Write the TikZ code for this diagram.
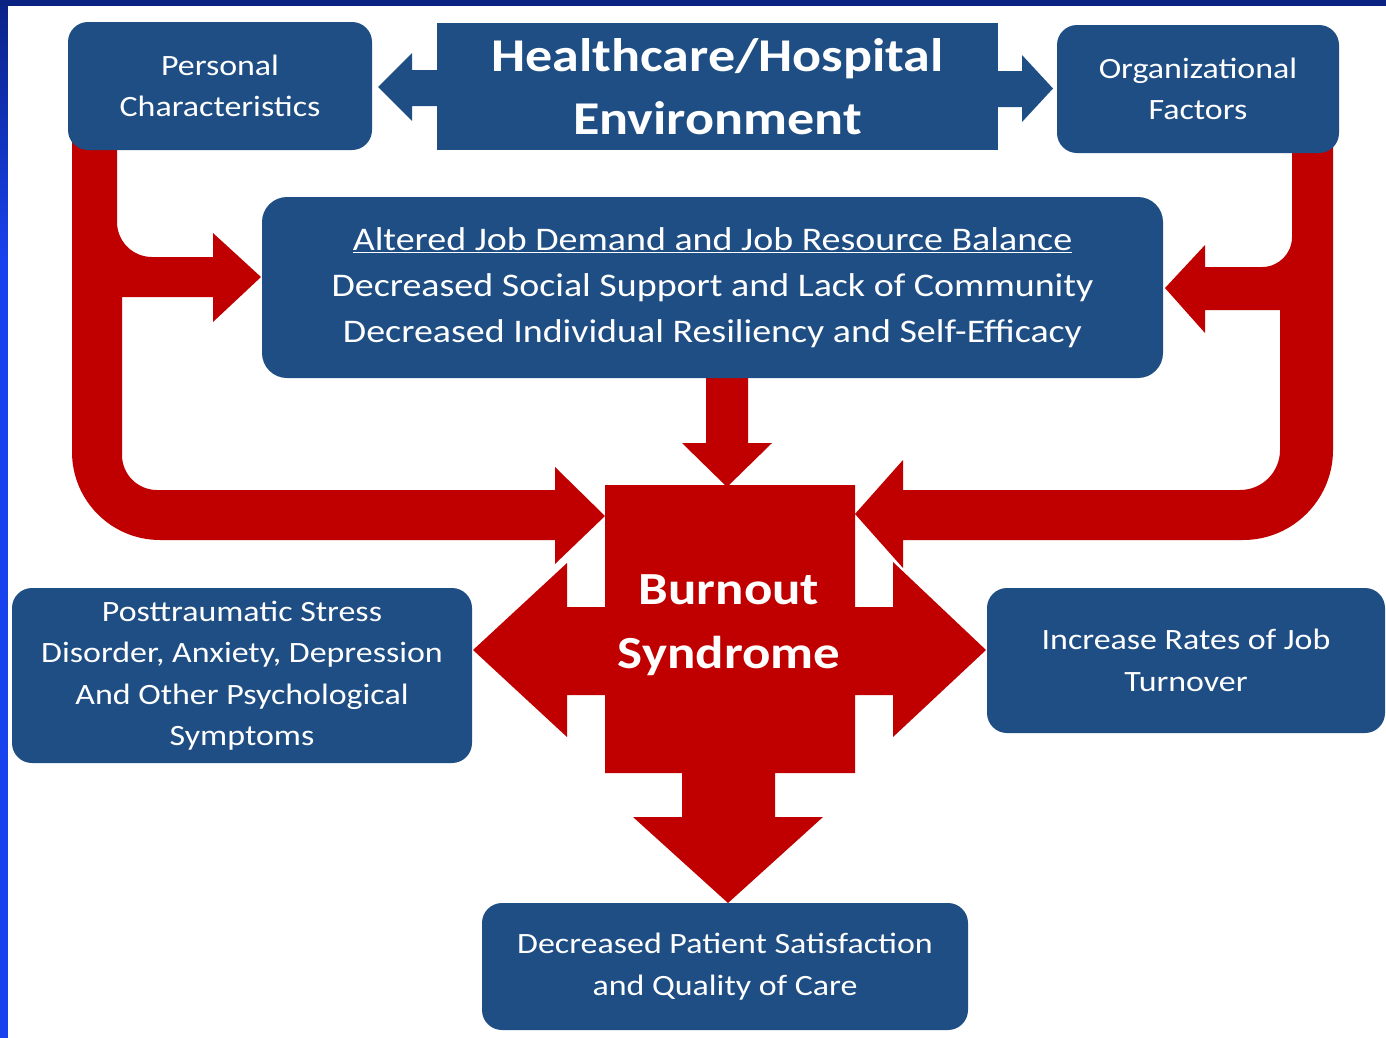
\documentclass[tikz,border=0pt]{standalone}
\usepackage{fontspec}
\setmainfont{Carlito}[FakeStretch=1.15]
\definecolor{boxblue}{RGB}{31,78,132}
\definecolor{burnred}{RGB}{192,0,0}
\definecolor{slidetop}{RGB}{10,34,130}
\definecolor{slidebottom}{RGB}{24,66,238}
\begin{document}
\begin{tikzpicture}[x=1pt,y=-1pt,
  bluebox/.style={fill=boxblue, rounded corners=20pt, text=white, align=center,
    inner sep=0pt, font=\fontsize{29.5}{41.5}\selectfont},
  headbox/.style={fill=boxblue, text=white, align=center, inner sep=0pt,
    font=\bfseries\fontsize{47}{63}\selectfont},
  redshape/.style={fill=burnred},
  blueshape/.style={fill=boxblue}]
\useasboundingbox (0,0) rectangle (1386,1037);

% slide frame and white canvas
\fill[slidebottom] (-10,-10) rectangle (1400,1050);
\shade[top color=slidetop, bottom color=slidebottom] (-10,-10) rectangle (10,260);
\fill[slidetop] (-10,-10) rectangle (1400,6);
\fill[white] (8,6) rectangle (1400,1050);

% left feedback path with branch into the middle box
\fill[redshape] (72,140) -- (117,140) -- (117,222)
  .. controls (117,241.3) and (132.7,257) .. (152,257)
  -- (213,257) -- (213,233) -- (261,277) -- (213,322) -- (213,297)
  -- (122,297) -- (122,455)
  .. controls (122,474.3) and (137.7,490) .. (157,490)
  -- (555,490) -- (555,467) -- (605,516) -- (555,564) -- (555,540)
  -- (160,540) .. controls (111.4,540) and (72,500.6) .. (72,452) -- cycle;

% right feedback path with branch into the middle box
\fill[redshape] (1292,140) -- (1333,140) -- (1333,450)
  .. controls (1333,499.7) and (1292.7,540) .. (1243,540)
  -- (903,540) -- (903,568) -- (855,514) -- (903,460) -- (903,490)
  -- (1240,490) .. controls (1262.1,490) and (1280,472.1) .. (1280,450)
  -- (1280,310) -- (1205,310) -- (1205,333) -- (1165,288) -- (1205,245)
  -- (1205,267) -- (1262,267)
  .. controls (1278.6,267) and (1292,253.6) .. (1292,237) -- cycle;

% arrow from the middle box down into the burnout block
\fill[redshape] (706,370) -- (748,370) -- (748,443) -- (772,443)
  -- (727,487) -- (682,443) -- (706,443) -- cycle;

% burnout block with its three outgoing arrows
\fill[redshape] (605,485) -- (855,485) -- (855,607) -- (893,607) -- (893,562)
  -- (986,650) -- (893,737) -- (893,695) -- (855,695) -- (855,773)
  -- (775,773) -- (775,817) -- (823,817) -- (728,903) -- (633,817)
  -- (682,817) -- (682,773) -- (605,773) -- (605,695) -- (567,695)
  -- (567,737) -- (473,650) -- (567,563) -- (567,607) -- (605,607) -- cycle;

% header arrows
\fill[blueshape] (378,87) -- (412,53) -- (412,70) -- (440,70) -- (440,106)
  -- (412,106) -- (412,121) -- cycle;
\fill[blueshape] (995,71) -- (1022,71) -- (1022,55) -- (1053,88.5)
  -- (1022,122) -- (1022,107) -- (995,107) -- cycle;

% boxes
\node[headbox, minimum width=561pt, minimum height=127pt] (env) at (717.5,86.5)
  {Healthcare/Hospital\\Environment};
\node[bluebox, minimum width=304pt, minimum height=128pt] (pers) at (220,86)
  {Personal\\Characteristics};
\node[bluebox, minimum width=282pt, minimum height=128pt] (org) at (1198,89)
  {Organizational\\Factors};
\node[bluebox, rounded corners=25pt, minimum width=901pt, minimum height=181pt,
  font=\fontsize{33}{46}\selectfont] (mid) at (712.5,287.5)
  {\underline{Altered Job Demand and Job Resource Balance}\\
   Decreased Social Support and Lack of Community\\
   Decreased Individual Resiliency and Self-Efficacy};
\node[bluebox, minimum width=460pt, minimum height=175pt] (ptsd) at (242,675.5)
  {Posttraumatic Stress\\Disorder, Anxiety, Depression\\And Other Psychological\\Symptoms};
\node[bluebox, minimum width=398pt, minimum height=145pt] (turn) at (1186,660.5)
  {Increase Rates of Job\\Turnover};
\node[bluebox, minimum width=486pt, minimum height=127pt] (pat) at (725,966.5)
  {Decreased Patient Satisfaction\\and Quality of Care};

% burnout label
\node[text=white, align=center, inner sep=0pt,
  font=\bfseries\fontsize{46}{64}\selectfont] (burn) at (729,625)
  {Burnout\\Syndrome};
\end{tikzpicture}
\end{document}
